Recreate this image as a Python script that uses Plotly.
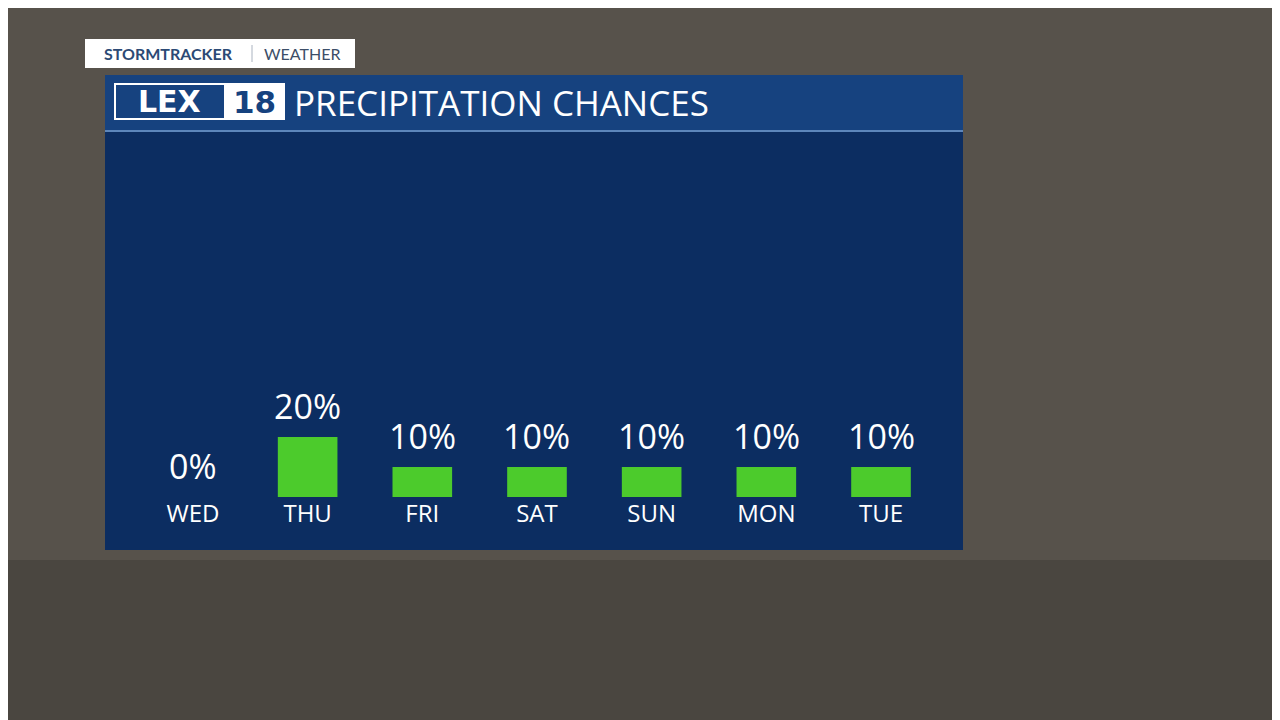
import plotly.graph_objects as go

days = ['WED', 'THU', 'FRI', 'SAT', 'SUN', 'MON', 'TUE']
chances = [0, 20, 10, 10, 10, 10, 10]
labels = [f'{c}%' for c in chances]
xpos = list(range(len(days)))

W, H = 1280, 720
OFF = 8  # page body margin
def px_x(p): return (p - OFF) / W
def px_y(p): return 1 - (p - OFF) / H

fig = go.Figure()
fig.add_trace(go.Bar(x=xpos, y=chances, width=0.52, marker=dict(color='#4ccb2c', line=dict(width=0)),
                     hoverinfo='skip'))

for x, c, t in zip(xpos, chances, labels):
    fig.add_annotation(x=x, y=c, text=t, showarrow=False, yanchor='middle', yshift=31,
                       font=dict(family='Open Sans', size=34, color='white'))

shapes = [
    # background photo approximation
    dict(type='rect', xref='paper', yref='paper', x0=-0.02, x1=1.02, y0=-0.02, y1=1.02, fillcolor='#57524b', line_width=0, layer='below'),
    dict(type='rect', xref='paper', yref='paper', x0=-0.02, x1=1.02, y0=-0.02, y1=px_y(560), fillcolor='#4a4640', line_width=0, layer='below'),
    # panel
    dict(type='rect', xref='paper', yref='paper', x0=px_x(105), x1=px_x(963), y0=px_y(550), y1=px_y(131),
         fillcolor='#0c2d61', line_width=0, layer='below'),
    dict(type='rect', xref='paper', yref='paper', x0=px_x(105), x1=px_x(963), y0=px_y(131), y1=px_y(75),
         fillcolor='#16427f', line_width=0, layer='below'),
    dict(type='line', xref='paper', yref='paper', x0=px_x(105), x1=px_x(963), y0=px_y(131), y1=px_y(131),
         line=dict(color='#5d86bb', width=2)),
    # logo
    dict(type='rect', xref='paper', yref='paper', x0=px_x(115), x1=px_x(284), y0=px_y(119), y1=px_y(84),
         fillcolor='#16427f', line=dict(color='white', width=2)),
    dict(type='rect', xref='paper', yref='paper', x0=px_x(224), x1=px_x(284), y0=px_y(119), y1=px_y(84),
         fillcolor='white', line_width=0),
    # stormtracker tag
    dict(type='rect', xref='paper', yref='paper', x0=px_x(85), x1=px_x(355), y0=px_y(68), y1=px_y(39),
         fillcolor='white', line_width=0),
    dict(type='line', xref='paper', yref='paper', x0=px_x(252), x1=px_x(252), y0=px_y(62), y1=px_y(45),
         line=dict(color='#aab3c0', width=1)),
]

anns = [
    dict(x=px_x(292), y=px_y(103), text='PRECIPITATION CHANCES', font=dict(family='Open Sans', size=35, color='white')),
    dict(x=px_x(169), y=px_y(102), xanchor='center', text='<b>LEX</b>', font=dict(family='DejaVu Sans', size=30, color='white')),
    dict(x=px_x(254), y=px_y(102), xanchor='center', text='<b>18</b>', font=dict(family='DejaVu Sans', size=31, color='#16427f')),
    dict(x=px_x(102), y=px_y(53), text='<b>STORMTRACKER</b>', font=dict(family='Lato', size=16, color='#2c4a75')),
    dict(x=px_x(262), y=px_y(53), text='WEATHER', font=dict(family='Lato', size=16, color='#3c4e68')),
]
for a in anns:
    a.setdefault('xanchor', 'left')
    fig.add_annotation(xref='paper', yref='paper', yanchor='middle', showarrow=False, **a)

fig.update_layout(
    width=W, height=H, margin=dict(l=0, r=0, t=0, b=0),
    paper_bgcolor='#57524b', plot_bgcolor='rgba(0,0,0,0)', showlegend=False,
    shapes=shapes,
    xaxis=dict(domain=[px_x(105), px_x(963)], range=[-0.767, 6.715], tickvals=xpos, ticktext=days,
               tickfont=dict(family='Open Sans', size=24, color='white'), showgrid=False, zeroline=False,
               showline=False, ticks='', ticklen=0),
    yaxis=dict(domain=[px_y(497), px_y(137)], range=[0, 120], visible=False),
)
fig.write_html("out.html")
